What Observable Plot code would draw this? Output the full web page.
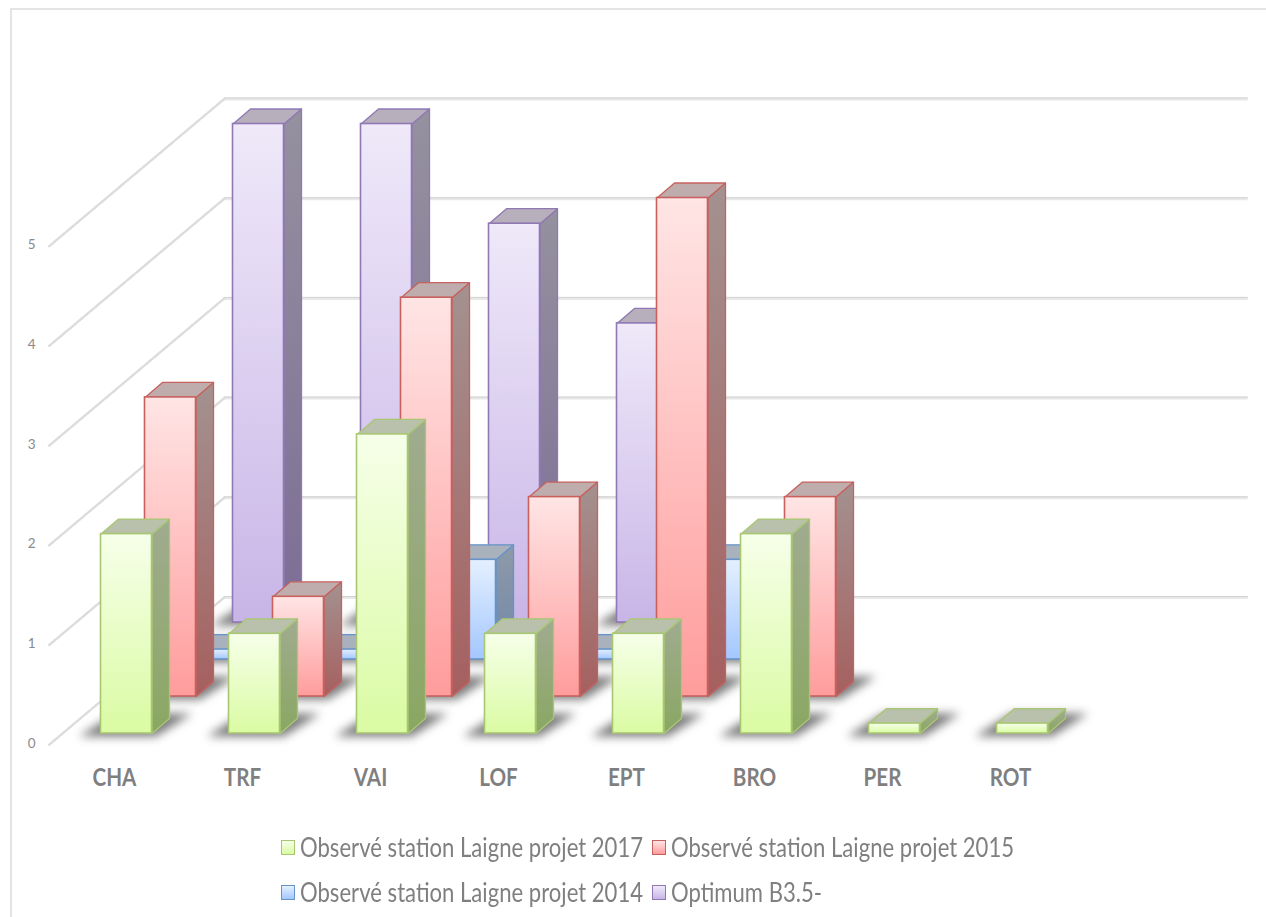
<!DOCTYPE html>
<html lang="fr">
<head>
<meta charset="utf-8">
<script src="https://cdn.jsdelivr.net/npm/d3@7"></script>
<script src="https://cdn.jsdelivr.net/npm/@observablehq/plot@0.6"></script>
<style>
html,body{margin:0;padding:0;background:#fff;width:1266px;height:917px;overflow:hidden}
#frame{position:absolute;left:10px;top:8px;right:0;bottom:0;border-top:2px solid #e4e4e4;border-left:2px solid #e4e4e4;z-index:0}
#chart{position:absolute;left:0;top:0;z-index:1}
#legend{position:absolute;left:0;top:820px;width:1266px;height:97px;z-index:1;font-family:Lato,sans-serif;font-size:26px;color:#7f7f7f}
.sw{position:absolute;box-sizing:border-box;width:14px;height:15px;border:1.5px solid}
.tx{position:absolute;white-space:nowrap;line-height:30px;transform-origin:0 50%;transform:scaleX(0.85)}
</style>
</head>
<body>
<div id="frame"></div>
<div id="chart"></div>
<div id="legend"></div>
<script>
const categories = ["CHA","TRF","VAI","LOF","EPT","BRO","PER","ROT"];
const observe2017 = [2,1,3,1,1,2,0.1,0.1];
const observe2015 = [3,1,4,2,5,2,null,null];
const observe2014 = [0.1,0.1,1,0.1,1,null,null,null];
const optimum = [5,5,4,3,null,null,null,null];
const valueTicks = [0,1,2,3,4,5];
const wallLevels = [0,1,2,3,4,5];

const seriesNames = ["Observé station Laigne projet 2017","Observé station Laigne projet 2015","Observé station Laigne projet 2014","Optimum B3.5-"];
const palette = [
  {id:"g",stroke:"#a9c772",front:["#f6ffe9","#dafba3"],side:["#a0ab90","#8aa762"],top:"#b9c0ab"},
  {id:"r",stroke:"#c8615e",front:["#ffe5e5","#ff9c9c"],side:["#a39290","#a65f5f"],top:"#bfadad"},
  {id:"b",stroke:"#6694c9",front:["#e4f0ff","#a3c7ff"],side:["#8e9aa8","#6f88a8"],top:"#a9b1bd"},
  {id:"p",stroke:"#9078b4",front:["#efe9f9","#c8b5e7"],side:["#95919f","#7c6d95"],top:"#b7afbc"}
];

// projection constants, expressed in data units
const unitX = 128, unitY = 99.7;
const depthX = 44/unitX, depthY = 37/unitY;   // shift per series in depth
const barInset = 0.5/unitX;
const barW = 51/unitX;
const faceX = 17.5/unitX, faceY = 15/unitY;   // visible bar depth
const wallX0 = -38/unitX, wallFront = -0.3, wallBack = 3.676;

function pt(id, x, y){ return {id, x, y}; }

function build(values, depth){
  const rects = [], sides = [], tops = [], shadows = [];
  values.forEach((v,i)=>{
    if (v == null) return;
    const xL = i + depth*depthX + barInset, xR = xL + barW, b = depth*depthY, t = b + v;
    rects.push({x1:xL,x2:xR,y1:b,y2:t});
    const s = `s${depth}-${i}`, u = `t${depth}-${i}`, h = `h${depth}-${i}`;
    sides.push(pt(s,xR,b),pt(s,xR+faceX,b+faceY),pt(s,xR+faceX,t+faceY),pt(s,xR,t),pt(s,xR,b));
    tops.push(pt(u,xL,t),pt(u,xL+faceX,t+faceY),pt(u,xR+faceX,t+faceY),pt(u,xR,t),pt(u,xL,t));
    shadows.push(
      pt(h,xL-22/unitX,b-3/unitY),pt(h,xR+4/unitX,b-3/unitY),
      pt(h,xR+40/unitX,b+20/unitY),pt(h,xL+14/unitX,b+20/unitY));
  });
  return {rects,sides,tops,shadows};
}

const gridBack = wallLevels.map(v=>({x1:wallX0+wallBack*depthX,x2:wallX0+wallBack*depthX+categories.length,y:v+wallBack*depthY}));
const wallDiag = wallLevels.flatMap(v=>[
  pt(`w${v}`,wallX0+wallFront*depthX,v+wallFront*depthY),
  pt(`w${v}`,wallX0+wallBack*depthX,v+wallBack*depthY)]);

const defs = () => {
  const d = d3.create("svg:defs");
  palette.forEach(c=>{
    [["f",c.front],["s",c.side]].forEach(([k,cols])=>{
      const g = d.append("linearGradient").attr("id",`${k}${c.id}`).attr("x1",0).attr("x2",0).attr("y1",0).attr("y2",1);
      g.append("stop").attr("offset","0%").attr("stop-color",cols[0]);
      g.append("stop").attr("offset","100%").attr("stop-color",cols[1]);
    });
  });
  return d.node();
};

const allSeries = [observe2017,observe2015,observe2014,optimum];
const barMarks = [3,2,1,0].flatMap(depth=>{
  const c = palette[depth], f = build(allSeries[depth],depth);
  return [
    Plot.line(f.shadows,{x:"x",y:"y",z:"id",fill:"#3c3c3c",stroke:"none",fillOpacity:0.68,imageFilter:"blur(5px)"}),
    Plot.line(f.sides,{x:"x",y:"y",z:"id",fill:`url(#s${c.id})`,stroke:c.stroke,strokeWidth:1.3}),
    Plot.line(f.tops,{x:"x",y:"y",z:"id",fill:c.top,stroke:c.stroke,strokeWidth:1.3}),
    Plot.rect(f.rects,{x1:"x1",x2:"x2",y1:"y1",y2:"y2",fill:`url(#f${c.id})`,stroke:c.stroke,strokeWidth:1.6})
  ];
});

const labelShift = 14/unitX;
const chart = Plot.plot({
  width:1266,height:820,
  marginLeft:40,marginRight:0,marginTop:0,marginBottom:87,
  style:{background:"transparent",fontFamily:"Lato, sans-serif"},
  x:{domain:[-60/unitX,(1226-60)/unitX]},
  y:{domain:[0,733/unitY]},
  marks:[
    defs,
    Plot.ruleY(gridBack,{x1:"x1",x2:"x2",y:"y",stroke:"#e8e8e8",strokeWidth:3}),
    Plot.ruleY(gridBack,{x1:"x1",x2:"x2",y:"y",stroke:"#d2d2d2",strokeWidth:1,dy:-1}),
    Plot.line(wallDiag,{x:"x",y:"y",z:"id",stroke:"#dcdcdc",strokeWidth:2.5,strokeDasharray:"1.5,1.5"}),
    barMarks,
    Plot.axisY({ticks:valueTicks,tickSize:0,tickPadding:5,dy:10,fontSize:13.5,label:null,fill:"#8a8a8a"}),
    Plot.axisX({ticks:categories.map((_,i)=>i+labelShift),tickFormat:d=>categories[Math.floor(d)],tickSize:0,tickPadding:35,fontSize:24,fontWeight:"bold",fill:"#7f7f7f",label:null})
  ]
});
document.getElementById("chart").appendChild(chart);

// narrow the tall category labels like the reference's stretched type
d3.select(chart).selectAll('[aria-label="x-axis tick label"] text')
  .attr("transform", function(){ return `${this.getAttribute("transform")||""} scale(0.86,1)`; });

// legend
const legendItems = [
  {k:0,row:0,col:0},{k:1,row:0,col:1},
  {k:2,row:1,col:0},{k:3,row:1,col:1}
];
const legend = d3.select("#legend");
legendItems.forEach(({k,row,col})=>{
  const c = palette[k], left = col ? 652 : 281, top = row*45;
  legend.append("span").attr("class","sw")
    .style("left",`${left}px`).style("top",`${20+top}px`)
    .style("border-color",c.stroke)
    .style("background",`linear-gradient(${c.front[0]},${c.front[1]})`);
  legend.append("span").attr("class","tx")
    .style("left",`${left+19}px`).style("top",`${12+top}px`)
    .text(seriesNames[k]);
});
</script>
</body>
</html>
